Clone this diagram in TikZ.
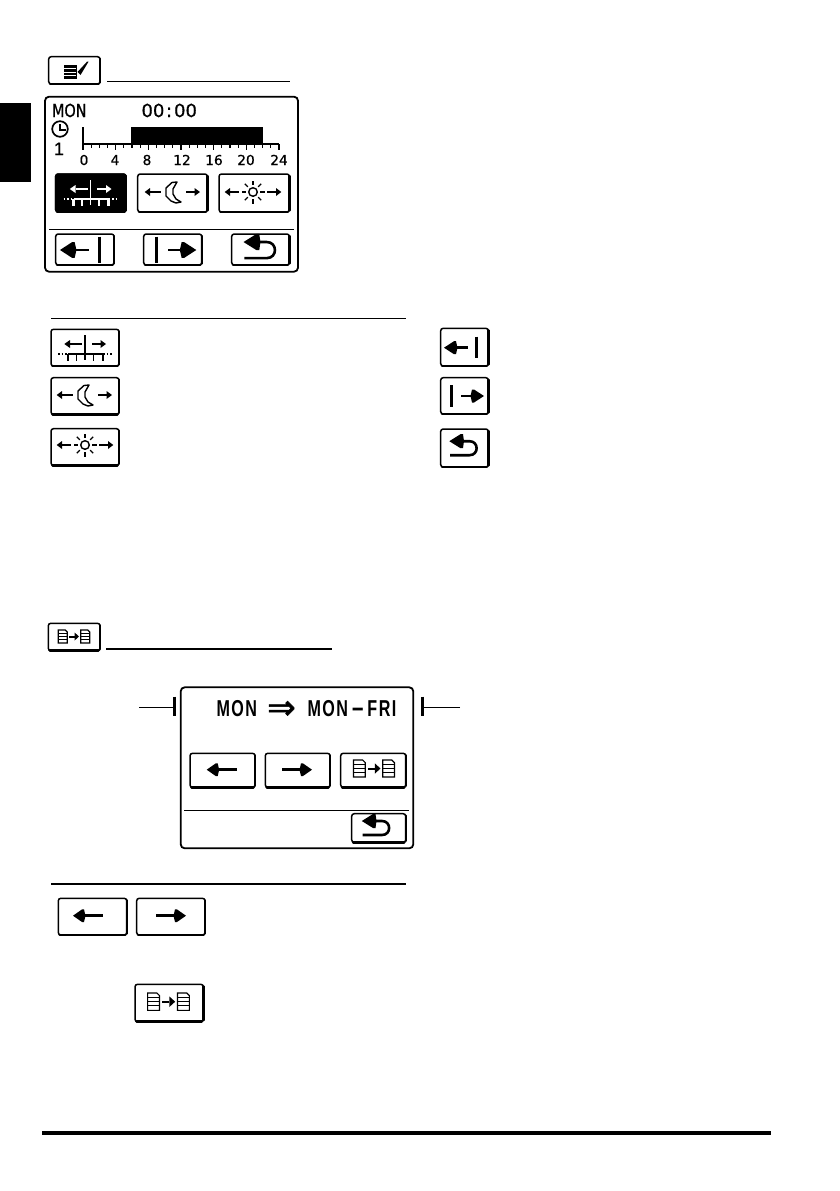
\documentclass[tikz,border=0pt]{standalone}
\usepackage{fontspec}
\setmainfont{DejaVu Sans}
\newfontfamily\lcdthin[FakeStretch=0.8,FakeBold=0.7]{DejaVu Sans}
\newfontfamily\lcdreg[FakeBold=0.7]{DejaVu Sans}
\newfontfamily\lcdone[FakeBold=1]{Liberation Sans}
\newfontfamily\lcdbold[FakeStretch=0.7]{Liberation Sans}
\newfontfamily\lcdarrow[FakeBold=1.5]{DejaVu Sans}
\newcommand{\harr}[5]{\draw[line width=2.8pt] ({#2},{#4}) -- ({#3},{#4}); \fill ({#1},{#4}) -- ({#2},{#4-#5}) -- ({#2+2},{#4-#5}) -- ({#2+3.5},{#4}) -- ({#2+2},{#4+#5}) -- ({#2},{#4+#5}) -- cycle;}
\newcommand{\harrs}[5]{\draw[line width=2pt] ({#2},{#4}) -- ({#3},{#4}); \fill ({#1},{#4}) -- ({#2},{#4-#5}) -- ({#2},{#4+#5}) -- cycle;}
\newcommand{\mydoc}[1]{\draw[line width=1.2pt] ({#1-4.5},-6.5) -- ({#1+2.5},-6.5) -- ({#1+4.5},-4.5) -- ({#1+4.5},6.5) -- ({#1-4.5},6.5) -- cycle;
 \foreach \yy in {-3.2,-0.2,2.8}{\draw[line width=1.2pt] ({#1-4.5},\yy) -- ({#1+4.5},\yy);}}
\newcommand{\lsp}{\kern1.5pt}
\tikzset{
 x=1pt,y=-1pt,
 btnbox/.style={draw=black,fill=white,rounded corners=2.5pt,line width=1.5pt,inner sep=0pt,outer sep=0pt},
 scrbox/.style={draw=black,fill=white,rounded corners=4pt,line width=1.8pt,inner sep=0pt,outer sep=0pt},
 rule/.style={draw=black,line width=1.3pt},
 lcdtext/.style={inner sep=0pt,outer sep=0pt,anchor=base west,font=\fontsize{18}{20}\lcdreg},
 axnum/.style={inner sep=0pt,outer sep=0pt,anchor=base,font=\fontsize{13.7}{15}\lcdreg},
 boldtext/.style={inner sep=0pt,outer sep=0pt,anchor=base west,font=\fontsize{23}{25}\lcdbold\bfseries},
 pics/iconruler/.style={code={
  \draw[line width=1.6pt] (0,-12.5) -- (0,12.5);
  \harrs{-20.7}{-15}{-3}{-3.5}{4}
  \harrs{21}{15.5}{6.5}{-3.5}{4}
  \draw[line width=1.6pt,dotted] (-27,6.2) -- (-17,6.2);
  \draw[line width=1.6pt,dotted] (18,6.2) -- (27,6.2);
  \draw[line width=1.7pt] (-17,6.2) -- (18,6.2);
  \foreach \xx/\ww in {-17/2.2,-8.5/1.3,8.5/1.3,18/2.2}{\draw[line width=\ww pt] (\xx,6.2) -- (\xx,13.5);}
 }},
 pics/iconmoon/.style={code={
  \harrs{-28.3}{-23}{-12}{-1}{4}
  \harrs{27}{21.5}{13}{-1}{4}
  \draw[line width=1.4pt,line join=round] (4,-11) -- (-1,-10.5) -- (-7,-5) -- (-7,3) -- (-2,8) -- (3,10) -- (8,9) -- (3,6) -- (0,1) -- (0,-4) -- cycle;
 }},
 pics/iconsun/.style={code={
  \harrs{-28.3}{-23}{-14}{0}{4}
  \harrs{28.3}{23}{14}{0}{4}
  \draw[line width=1.4pt] (0,0) circle[radius=4.3];
  \foreach \aa in {0,45,...,315}{\draw[line width=1.4pt] (\aa:7.3) -- (\aa:11.5);}
 }},
 pics/iconleftbar/.style={code={
  \harr{-20.5}{-10.5}{3.5}{0}{6.5}
  \draw[line width=3.2pt] (12,-11) -- (12,10.5);
 }},
 pics/iconrightbar/.style={code={
  \draw[line width=3.2pt] (-12.8,-11) -- (-12.8,11);
  \begin{scope}[xscale=-1]
  \harr{-19.5}{-9.5}{3.8}{0}{6.5}
  \end{scope}
 }},
 pics/iconreturn/.style={code={
  \fill (-15.2,-6.5) -- (-4,-13.5) -- (-1.5,-13.5) -- (-0.5,-6.5) -- (-1.5,0.5) -- (-4,0.5) -- cycle;
  \draw[line width=2.6pt] (-3,-6.5) -- (5,-6.5) .. controls (14.5,-6.5) and (14.5,7.5) .. (5,7.5) -- (-14.5,7.5);
 }},
 pics/iconarrow/.style={code={
  \harr{-15}{-6}{15}{0}{6.3}
 }},
 pics/icondocs/.style={code={
  \mydoc{-11.2}
  \harrs{5}{0.6}{-5}{0}{4}
  \mydoc{11.2}
 }},
 pics/iconedit/.style={code={
  \fill (-10,-5.5) rectangle (3.3,8.8);
  \foreach \yy in {-2.2,1.6,5.4}{\draw[white,line width=1.1pt] (-10,\yy) -- (2,\yy);}
  \fill (3.5,1.5) -- (6.5,4.5) -- (14.5,-8.8) -- (13,-8.8) -- cycle;
 }},
}
\newcommand{\mybtn}[5]{%
 \node[btnbox,minimum width={#4-#2},minimum height={#5-#3}] (#1) at ({(#2+#4)/2},{(#3+#5)/2}) {};
 \draw[line width=2.8pt,line cap=round] ([xshift=1.5pt]#1.south west) -- ([xshift=-1.5pt]#1.south east);
 \draw[line width=2.4pt,line cap=round] ([yshift=1.5pt]#1.south east) -- ([yshift=-2pt]#1.north east);
}
\begin{document}
\begin{tikzpicture}
\path[use as bounding box,fill=white] (0,0) rectangle (839,1191);
% side tab
\fill[black] (0,102.7) rectangle (31,182);
% section 1 heading
\mybtn{editbtn}{48.7}{56.7}{100}{84}
\pic at (74,70.5) {iconedit};
\coordinate (h1a) at (107,81.3); \coordinate (h1b) at (290,81.3);
\draw[rule] (h1a) -- (h1b);
% screen 1
\node[scrbox,minimum width=253,minimum height=175] (scr1) at (171.5,184.2) {};
\node[lcdtext,font=\fontsize{18}{20}\lcdthin] (monlbl) at (52,117) {MON};
\node[lcdtext] (timelbl) at (141.5,117) {00\kern1.6pt:\kern2pt00};
\draw[line width=1.7pt] (60,129) circle[radius=7.8];
\draw[line width=1.4pt] (60,124) -- (60,130) -- (65.5,130);
\node[lcdtext,anchor=base,font=\fontsize{18}{20}\lcdone] (onelbl) at (59,155) {1};
\draw[line width=1.6pt] (83,127) -- (83,148);
\draw[line width=1.6pt] (83,144) -- (279,144);
\foreach \ii in {0,...,24}{\draw[line width=1.3pt] ({83+\ii*8.167},144) -- ({83+\ii*8.167},148);}
\foreach \ii in {0,4,...,24}{\draw[line width=1.3pt] ({83+\ii*8.167},144) -- ({83+\ii*8.167},150);}
\fill[black] (131,126.7) rectangle (263,144);
\foreach \nn/\xx in {0/84,4/115,8/147,12/182,16/214,20/246,24/279}{
 \node[axnum] (ax\nn) at (\xx,165) {\nn};}
\mybtn{sb1}{55.7}{174}{126}{212}
\node[btnbox,fill=black,minimum width=70.3,minimum height=38] (sb1fill) at (90.85,193) {};
\pic[white] at (90.5,192.5) {iconruler};
\mybtn{sb2}{137.7}{174}{207.3}{212}
\pic at (173,193) {iconmoon};
\mybtn{sb3}{219}{174}{289.3}{212}
\pic at (253,192) {iconsun};
\coordinate (d1a) at (49,229.7); \coordinate (d1b) at (294,229.7);
\draw[rule,line width=1.5pt] (d1a) -- (d1b);
\mybtn{sb4}{55.7}{234}{114}{265}
\pic[scale=1.22] at (85,250) {iconleftbar};
\mybtn{sb5}{143.7}{234}{201.7}{265}
\pic[scale=1.22] at (172.5,250) {iconrightbar};
\mybtn{sb6}{231.7}{234}{289.3}{265}
\pic[scale=1.15] at (261,249.5) {iconreturn};
% legend 1
\coordinate (l1a) at (51,318.3); \coordinate (l1b) at (406,318.3);
\draw[rule] (l1a) -- (l1b);
\mybtn{la}{51}{329.3}{119}{366}
\pic at (85,347.5) {iconruler};
\mybtn{lb}{51}{377.7}{119}{414.3}
\pic at (85,396) {iconmoon};
\mybtn{lc}{51}{428.7}{119}{465.3}
\pic at (85,445) {iconsun};
\mybtn{ra}{440.7}{328.3}{488.3}{366}
\pic at (464.5,347.7) {iconleftbar};
\mybtn{rb}{440.7}{377.7}{488.3}{414}
\pic at (464.5,396) {iconrightbar};
\mybtn{rc}{440.7}{429}{488.3}{467}
\pic at (464.5,447.7) {iconreturn};
% section 2 heading
\mybtn{copybtn}{48.3}{623.3}{100}{650.7}
\pic at (74,636.5) {icondocs};
\coordinate (h2a) at (106,649.3); \coordinate (h2b) at (331.7,649.3);
\draw[rule,line width=1.8pt] (h2a) -- (h2b);
% screen 2
\node[scrbox,minimum width=232.6,minimum height=161] (scr2) at (297,767.8) {};
\coordinate (tl0) at (139.3,707.3); \coordinate (tl1) at (174,707.3);
\coordinate (tr0) at (460,707.3); \coordinate (tr1) at (422,707.3);
\draw[line width=1pt] (tl0) -- (tl1);
\draw[line width=1pt] (tr0) -- (tr1);
\draw[line width=3pt] (174,696.7) -- (174,715.7);
\draw[line width=3pt] (422,696.7) -- (422,715.7);
\node[boldtext] (mona) at (216.5,716.5) {M\lsp O\lsp N};
\node[inner sep=0pt,outer sep=0pt,anchor=base,font=\fontsize{34}{36}\lcdarrow] (imp) at (281.5,719) {⇒};
\node[boldtext] (monb) at (307.5,716.5) {M\lsp O\lsp N\kern3pt\raisebox{1pt}{\scalebox{2.5}[1]{-}}\kern3pt F\lsp R\lsp I};
\mybtn{cb1}{190}{753.3}{255}{787.3}
\pic at (221.7,769.7) {iconarrow};
\mybtn{cb2}{265.3}{753.3}{330}{787.3}
\pic[xscale=-1] at (297,769.7) {iconarrow};
\mybtn{cb3}{340.7}{753.3}{405.7}{787.3}
\pic[scale=1.3] at (374,768.5) {icondocs};
\coordinate (d2a) at (184.3,810.3); \coordinate (d2b) at (409.3,810.3);
\draw[rule] (d2a) -- (d2b);
\mybtn{cb4}{351.7}{813.7}{405.7}{842.3}
\pic at (377,827.5) {iconreturn};
% legend 2
\coordinate (l2a) at (51,884); \coordinate (l2b) at (406,884);
\draw[rule] (l2a) -- (l2b);
\mybtn{ea}{58.3}{898.3}{126.7}{935}
\pic at (88,915.7) {iconarrow};
\mybtn{eb}{136.7}{898.3}{205}{935}
\pic[xscale=-1] at (171,915.7) {iconarrow};
\mybtn{ec}{135}{984.3}{203.3}{1021.7}
\pic[scale=1.33] at (168.5,1001.7) {icondocs};
% footer
\coordinate (fa) at (42,1133); \coordinate (fb) at (771,1133);
\draw[line width=4pt] (fa) -- (fb);
\end{tikzpicture}
\end{document}
